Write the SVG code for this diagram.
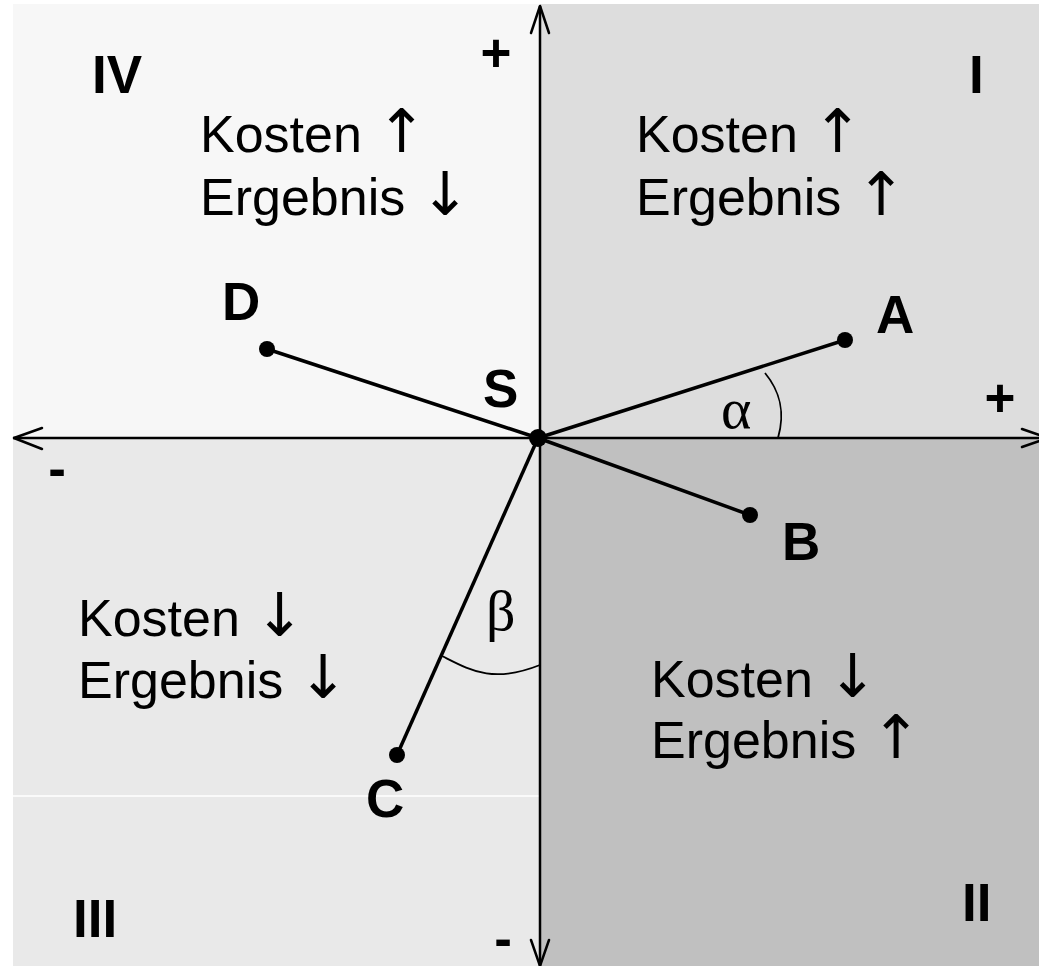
<svg xmlns="http://www.w3.org/2000/svg" width="1039" height="966" viewBox="0 0 1039 966">
<style>
.lbl{font-family:"Liberation Sans",Arial,sans-serif;font-weight:bold;font-size:53px;fill:#000}
.txt{font-family:"Liberation Sans",Arial,"DejaVu Sans",sans-serif;font-size:52px;fill:#000}
.ar{font-family:"DejaVu Sans",sans-serif;font-size:60px}
.grk{font-family:"Liberation Serif","Times New Roman",serif;font-size:58px;fill:#000}
.axis{stroke:#000;stroke-width:2.5;fill:none}
.arrow{stroke:#000;stroke-width:2.5;fill:none;stroke-linecap:round;stroke-linejoin:round}
.seg{stroke:#000;stroke-width:3.5;fill:none}
.arc{stroke:#000;stroke-width:1.8;fill:none}
</style>
<rect x="0" y="0" width="1039" height="966" fill="#ffffff"/>
<g id="quadrants">
<rect id="q4" x="13" y="4" width="527" height="434" fill="#F7F7F7"/>
<rect id="q1" x="540" y="4" width="499" height="434" fill="#DDDDDD"/>
<rect id="q3" x="13" y="438" width="527" height="528" fill="#E9E9E9"/>
<rect id="q2" x="540" y="438" width="499" height="528" fill="#C0C0C0"/>
<line x1="13" y1="796" x2="540" y2="796" stroke="#ffffff" stroke-width="1.5"/>
</g>
<g id="axes">
<line class="axis" x1="540" y1="6" x2="540" y2="966"/>
<line class="axis" x1="13" y1="438" x2="1039" y2="438"/>
<polyline class="arrow" points="531,33 540,6 549,33"/>
<polyline class="arrow" points="531,940 540,966 549,940"/>
<polyline class="arrow" points="42,428 14,438 42,449"/>
<polyline class="arrow" points="1022,429 1048,438 1022,447"/>
</g>
<g id="connectors">
<line class="seg" x1="538" y1="438" x2="845" y2="340"/>
<line class="seg" x1="538" y1="438" x2="750" y2="515"/>
<line class="seg" x1="538" y1="438" x2="397" y2="755"/>
<line class="seg" x1="538" y1="438" x2="267" y2="349"/>
<path class="arc" d="M765,373 C779,390 786,410 778,438"/>
<path class="arc" d="M442,656 C470,670 492,684 540,665"/>
</g>
<g id="S"><circle cx="538" cy="438" r="9"/><text class="lbl" x="483" y="407">S</text></g>
<g id="A"><circle cx="845" cy="340" r="8"/><text class="lbl" x="876" y="333">A</text></g>
<g id="B"><circle cx="750" cy="515" r="8"/><text class="lbl" x="782" y="560">B</text></g>
<g id="C"><circle cx="397" cy="755" r="8"/><text class="lbl" x="366" y="817">C</text></g>
<g id="D"><circle cx="267" cy="349" r="8"/><text class="lbl" x="222" y="320">D</text></g>
<g id="labels">
<text class="lbl" x="92" y="93">IV</text>
<text class="lbl" x="969" y="93">I</text>
<text class="lbl" x="962" y="921">II</text>
<text class="lbl" x="73" y="937">III</text>
<text class="lbl" x="496" y="71" text-anchor="middle">+</text>
<text class="lbl" x="1000" y="416" text-anchor="middle">+</text>
<text class="lbl" x="57" y="487" text-anchor="middle">-</text>
<text class="lbl" x="503" y="957" text-anchor="middle">-</text>
<text class="grk" x="721" y="428">α</text>
<text class="grk" x="486" y="630">β</text>
</g>
<g id="q4text"><text class="txt" x="200" y="152">Kosten <tspan class="ar">↑</tspan></text><text class="txt" x="200" y="215">Ergebnis <tspan class="ar">↓</tspan></text></g>
<g id="q1text"><text class="txt" x="636" y="152">Kosten <tspan class="ar">↑</tspan></text><text class="txt" x="636" y="215">Ergebnis <tspan class="ar">↑</tspan></text></g>
<g id="q3text"><text class="txt" x="78" y="636">Kosten <tspan class="ar">↓</tspan></text><text class="txt" x="78" y="698">Ergebnis <tspan class="ar">↓</tspan></text></g>
<g id="q2text"><text class="txt" x="651" y="697">Kosten <tspan class="ar">↓</tspan></text><text class="txt" x="651" y="758">Ergebnis <tspan class="ar">↑</tspan></text></g>
</svg>
